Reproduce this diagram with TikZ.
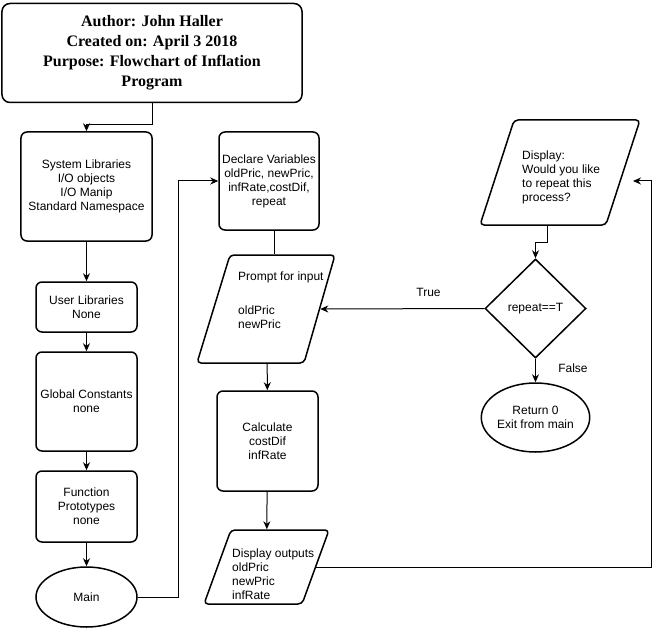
\documentclass[tikz,border=0pt]{standalone}
\usepackage{fontspec}
\setmainfont{Liberation Sans}
\newfontfamily\headfont{Liberation Serif}
\usetikzlibrary{shapes.geometric,arrows.meta}
\begin{document}
\begin{tikzpicture}[x=1bp,y=-1bp,>={Stealth[length=8bp,width=7bp]},
  font=\fontsize{12bp}{14bp}\selectfont,
  box/.style={draw,line width=1.5bp,rounded corners=6bp,align=center,inner sep=0pt},
  io/.style={draw,line width=1.5bp,rounded corners=4bp,trapezium,trapezium stretches body,inner sep=0pt,
    text height=#1/2,text depth=#1/2,minimum height=#1},
  oval/.style={draw,line width=1.5bp,ellipse,inner sep=0pt,align=center},
  choice/.style={draw,line width=1.5bp,diamond,inner sep=0pt},
  link/.style={->,line width=1bp}]
\useasboundingbox (0,0) rectangle (660,628);
% left column
\node[box,rounded corners=8bp,minimum width=300bp,minimum height=99bp,
  font=\headfont\bfseries\fontsize{16bp}{20bp}\selectfont] (header) at (152,53)
  {Author: John Haller\\Created on: April 3 2018\\Purpose: Flowchart of Inflation\\Program};
\node[box,minimum width=131bp,minimum height=109bp] (syslib) at (86.5,186.5)
  {System Libraries\\I/O objects\\I/O Manip\\Standard Namespace};
\node[box,minimum width=101bp,minimum height=50bp] (usrlib) at (86.5,307) {User Libraries\\None};
\node[box,minimum width=101bp,minimum height=99bp] (glob) at (86.5,401.5) {Global Constants\\none};
\node[box,minimum width=101bp,minimum height=71bp] (func) at (86.5,506.5) {Function\\Prototypes\\none};
\node[oval,minimum width=101bp,minimum height=60bp] (main) at (86.5,597) {Main};
% middle column
\node[box,minimum width=100bp,minimum height=98bp] (declare) at (269,181)
  {Declare Variables\\oldPric, newPric,\\infRate,costDif,\\repeat};
\node[io=108bp,trapezium left angle=73,trapezium right angle=106,minimum width=138bp] (prompt) at (267,309) {};
\node[anchor=west,align=left,inner sep=0pt] (prompttxt) at (238,300) {Prompt for input\\[20bp]oldPric\\newPric};
\node[box,minimum width=101bp,minimum height=100bp] (calc) at (267.5,441) {Calculate\\costDif\\infRate};
\node[io=74bp,trapezium left angle=70,trapezium right angle=110,minimum width=125bp] (dispout) at (266.5,567) {};
\node[anchor=west,align=left,inner sep=0pt] (dispouttxt) at (232,574) {Display outputs\\oldPric\\newPric\\infRate};
% right column
\node[io=105bp,trapezium left angle=72,trapezium right angle=108,minimum width=160bp] (dispask) at (560,172.5) {};
\node[anchor=west,align=left,inner sep=0pt] (dispasktxt) at (522,177.5) {Display:\\Would you like\\to repeat this\\process?};
\node[choice,minimum width=101bp,minimum height=99bp] (decide) at (535.5,308.5) {repeat==T};
\node[oval,minimum width=101bp,minimum height=69bp] (ret) at (535.5,417.5) {Return 0\\Exit from main};
\coordinate (loopup) at (651,181);
\coordinate (loopin) at (633,181);
% connectors
\draw[link] (header.south) -- ++(0,21) -| (syslib.north);
\foreach \a/\b in {syslib/usrlib,usrlib/glob,glob/func,func/main} \draw[link] (\a) -- (\b);
\draw[link] (main.east) -- ++(41,0) |- (declare.west);
\draw[line width=1bp] ([xshift=5bp]declare.south) -- ([xshift=5bp]declare.south |- prompt.north);
\draw[link] (prompt) -- (calc);
\draw[link] (calc) -- (dispout);
\draw[link] (dispout.east) -| (loopup) -- (loopin);
\draw[link] ([xshift=-13bp]dispask.south) -- ++(0,17) -| (decide.north);
\draw[link] (decide.west) -- (prompt.east) node[pos=0.34,above=8bp]{True};
\draw[link] (decide.south) -- (ret.north) node[pos=0.4,right=19bp]{False};
\end{tikzpicture}
\end{document}
